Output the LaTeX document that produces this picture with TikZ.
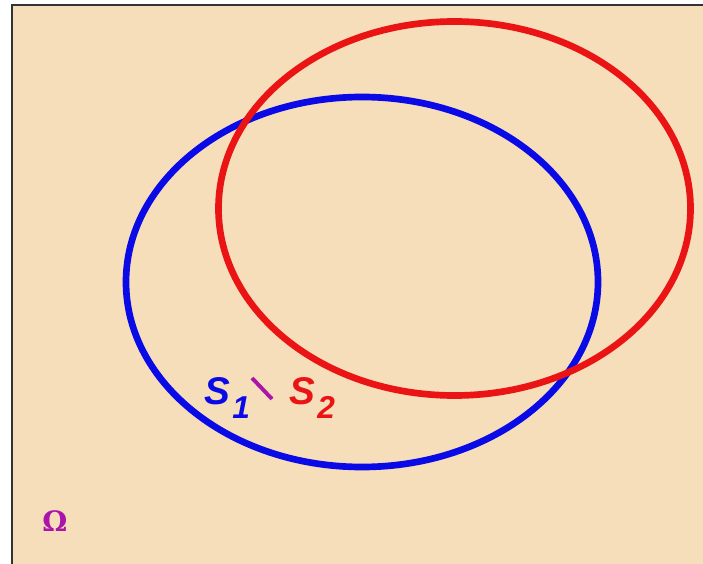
\documentclass[tikz,border=0pt]{standalone}
\usepackage{fontspec}
\setsansfont{Liberation Sans}
\newfontfamily\omegafont{DejaVu Serif}
\definecolor{paper}{RGB}{245,222,185}
\definecolor{setblue}{RGB}{10,10,230}
\definecolor{setred}{RGB}{235,20,20}
\definecolor{omega}{RGB}{170,20,170}
\newcommand{\setname}[2]{#1\kern1.5pt\raisebox{-8pt}{\fontsize{18}{20}\selectfont #2}}
\begin{document}
\begin{tikzpicture}[x=0.02cm, y=-0.02cm,
    set/.style={line width=3.8pt},
    lbl/.style={font=\sffamily\bfseries\itshape\fontsize{22}{24}\selectfont, inner sep=0pt}
]
\useasboundingbox (0,0) rectangle (703,564);

% Background - Universe
\fill[paper] (12,5) rectangle (703,564);
\draw[line width=1.5pt, black!80] (12,564) -- (12,5) -- (703,5);

% Sets
\draw[set, setblue] (362,282) ellipse [x radius=236, y radius=185];
\draw[set, setred] (454.5,208.5) ellipse [x radius=236, y radius=187];

% Labels
\node[lbl, setblue] (s1) at (227,398) {\setname{S}{1}};
\node[lbl, setred] (s2) at (312,398) {\setname{S}{2}};
\coordinate (tickA) at (252,378);
\coordinate (tickB) at (272,399);
\draw[omega, line width=2.2pt] (tickA) -- (tickB);
\node[omega, font=\omegafont\bfseries\fontsize{16}{18}\selectfont] (om) at (55,521) {Ω};
\end{tikzpicture}
\end{document}
